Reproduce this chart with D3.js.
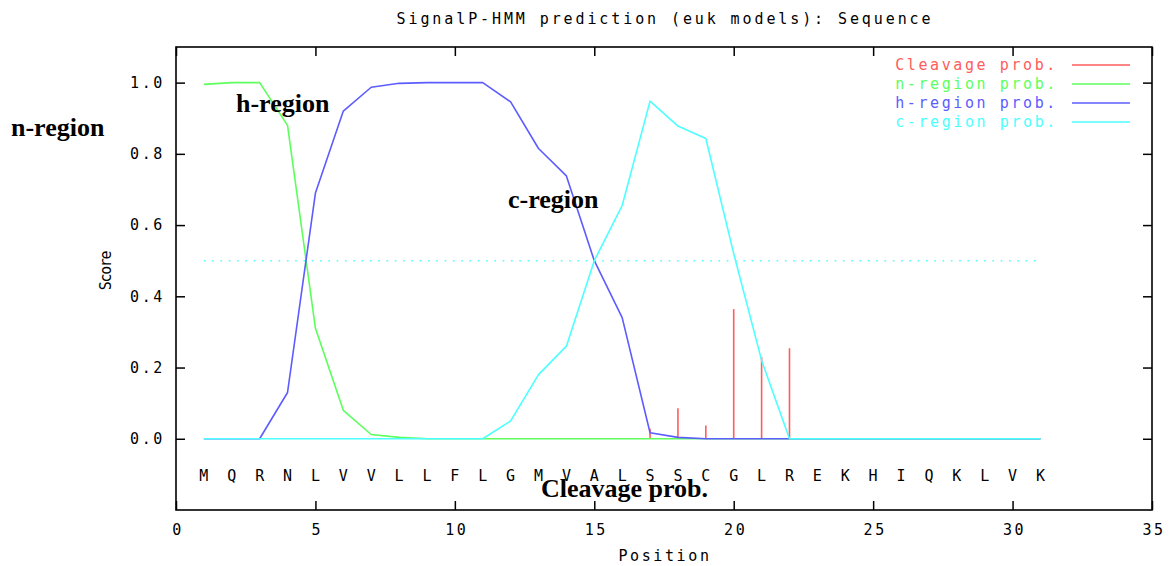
<!DOCTYPE html>
<html lang="en">
	<head>
		<meta charset="utf-8">
		<title>SignalP-HMM prediction</title>
		<script src="https://d3js.org/d3.v7.min.js"></script>
		<style>
			body { margin: 0; background: #fff; }
			.mono { font-family: "DejaVu Sans Mono", monospace; font-size: 15px; letter-spacing: 2.6px; }
			.note { font-family: "Liberation Serif", "Times New Roman", serif; font-size: 26px; font-weight: bold; }
		</style>
	</head>
	<body>
		<script type="text/javascript">

			// Data
			var positions = [1,2,3,4,5,6,7,8,9,10,11,12,13,14,15,16,17,18,19,20,21,22,23,24,25,26,27,28,29,30,31];
			var residues  = ["M","Q","R","N","L","V","V","L","L","F","L","G","M","V","A","L","S","S","C","G","L","R","E","K","H","I","Q","K","L","V","K"];

			var cleavage = [0,0,0,0,0,0,0,0,0,0,0,0,0,0,0,0,0.028,0.086,0.037,0.364,0.229,0.254,0,0,0,0,0,0,0,0,0];
			var nRegion  = [0.995,1.0,1.0,0.88,0.31,0.08,0.012,0.004,0,0,0,0,0,0,0,0,0,0,0,0,0,0,0,0,0,0,0,0,0,0,0];
			var hRegion  = [0,0,0,0.13,0.69,0.92,0.987,0.998,1.0,1.0,1.0,0.946,0.815,0.738,0.5,0.34,0.017,0.004,0,0,0,0,0,0,0,0,0,0,0,0,0];
			var cRegion  = [0,0,0,0,0,0,0,0,0,0,0,0.05,0.18,0.26,0.5,0.655,0.948,0.878,0.843,0.52,0.22,0,0,0,0,0,0,0,0,0,0];

			var xTicks = [0,5,10,15,20,25,30,35];
			var yTicks = [0,0.2,0.4,0.6,0.8,1.0];
			var threshold = 0.5;

			var legendLabels = ["Cleavage prob.","n-region prob.","h-region prob.","c-region prob."];
			var legendColors = ["#ff5c5c","#5cff5c","#5c5cff","#4dffff"];

			//Width and height
			var w = 1169;
			var h = 566;
			var frame = {left: 176, right: 1152, top: 47, bottom: 510};

			var x = d3.scaleLinear().domain([0,35]).range([frame.left, frame.right]);
			var y = d3.scaleLinear().domain([-0.2,1.1]).range([frame.bottom, frame.top]);

			// Create SVG element
			var svg = d3.select("body")
						.append("svg")
						.attr("width", w)
						.attr("height", h);

			svg.append("rect")
				.attr("width", w)
				.attr("height", h)
				.attr("fill", "white");

			// Title
			svg.append("text")
				.attr("class", "mono")
				.attr("x", 665)
				.attr("y", 24)
				.attr("text-anchor", "middle")
				.style("letter-spacing", "2.9px")
				.text("SignalP-HMM prediction (euk models): Sequence");

			// Axes, gnuplot style: ticks pointing inwards on all sides
			function styleAxis(g){
				g.select(".domain").remove();
				g.selectAll(".tick line").attr("stroke", "black").attr("stroke-width", 1.5);
				g.selectAll("text").attr("class", "mono").attr("fill", "black");
			}

			svg.append("g")
				.attr("transform", `translate(0,${frame.bottom})`)
				.call(d3.axisBottom(x).tickValues(xTicks).tickSize(-9).tickPadding(14).tickFormat(d3.format("d")))
				.call(styleAxis)
				.selectAll("text").attr("dx", "0.1em");

			svg.append("g")
				.attr("transform", `translate(0,${frame.top})`)
				.call(d3.axisTop(x).tickValues(xTicks).tickSize(-9).tickFormat(""))
				.call(styleAxis);

			svg.append("g")
				.attr("transform", `translate(${frame.left},0)`)
				.call(d3.axisLeft(y).tickValues(yTicks).tickSize(-9).tickPadding(11).tickFormat(d3.format(".1f")))
				.call(styleAxis);

			svg.append("g")
				.attr("transform", `translate(${frame.right},0)`)
				.call(d3.axisRight(y).tickValues(yTicks).tickSize(-9).tickFormat(""))
				.call(styleAxis);

			svg.append("rect")
				.attr("x", frame.left)
				.attr("y", frame.top)
				.attr("width", frame.right - frame.left)
				.attr("height", frame.bottom - frame.top)
				.attr("fill", "none")
				.attr("stroke", "black")
				.attr("stroke-width", 1.6);

			// Axis titles
			svg.append("text")
				.attr("class", "mono")
				.attr("x", 665)
				.attr("y", 561)
				.attr("text-anchor", "middle")
				.text("Position");

			svg.append("text")
				.attr("class", "mono")
				.attr("transform", "translate(111,271) rotate(-90)")
				.attr("text-anchor", "middle")
				.style("letter-spacing", "-1.3px")
				.text("Score");

			// Residue letters under the curves
			svg.append("g")
				.selectAll("text")
				.data(residues)
				.enter().append("text")
				.attr("class", "mono")
				.attr("x", (d,i) => x(positions[i]) + 1.3)
				.attr("y", 481)
				.attr("text-anchor", "middle")
				.text(d => d);

			// Threshold dotted line
			svg.append("line")
				.attr("x1", x(positions[0]))
				.attr("x2", x(positions[positions.length-1]))
				.attr("y1", y(threshold))
				.attr("y2", y(threshold))
				.attr("stroke", legendColors[3])
				.attr("stroke-width", 1.6)
				.attr("stroke-dasharray", "1.6,6.7");

			// Cleavage impulses
			svg.append("g")
				.selectAll("line")
				.data(cleavage.map((v,i) => ({pos: positions[i], v: v})).filter(d => d.v > 0))
				.enter().append("line")
				.attr("x1", d => x(d.pos))
				.attr("x2", d => x(d.pos))
				.attr("y1", y(0))
				.attr("y2", d => y(d.v))
				.attr("stroke", legendColors[0])
				.attr("stroke-width", 1.6);

			// Region curves
			var line = d3.line()
				.x((d,i) => x(positions[i]))
				.y(d => y(d));

			[nRegion, hRegion, cRegion].forEach(function(series, k){
				svg.append("path")
					.datum(series)
					.attr("d", line)
					.attr("fill", "none")
					.attr("stroke", legendColors[k+1])
					.attr("stroke-width", 1.6)
					.attr("stroke-linejoin", "round");
			});

			// Legend
			var legend = svg.append("g")
				.selectAll("g")
				.data(legendLabels)
				.enter().append("g")
				.attr("transform", (d,i) => `translate(0,${65 + i*19})`);

			legend.append("text")
				.attr("class", "mono")
				.attr("x", 1058)
				.attr("y", 5)
				.attr("text-anchor", "end")
				.attr("fill", (d,i) => legendColors[i])
				.text(d => d);

			legend.append("line")
				.attr("x1", 1072)
				.attr("x2", 1130)
				.attr("stroke", (d,i) => legendColors[i])
				.attr("stroke-width", 1.6);

			// Region annotations
			var notes = [
				{text: "n-region", x: 11, y: 136},
				{text: "h-region", x: 236, y: 112},
				{text: "c-region", x: 508, y: 208},
				{text: "Cleavage prob.", x: 541, y: 497}
			];

			svg.append("g")
				.selectAll("text")
				.data(notes)
				.enter().append("text")
				.attr("class", "note")
				.attr("x", d => d.x)
				.attr("y", d => d.y)
				.text(d => d.text);

		</script>
	</body>
</html>
